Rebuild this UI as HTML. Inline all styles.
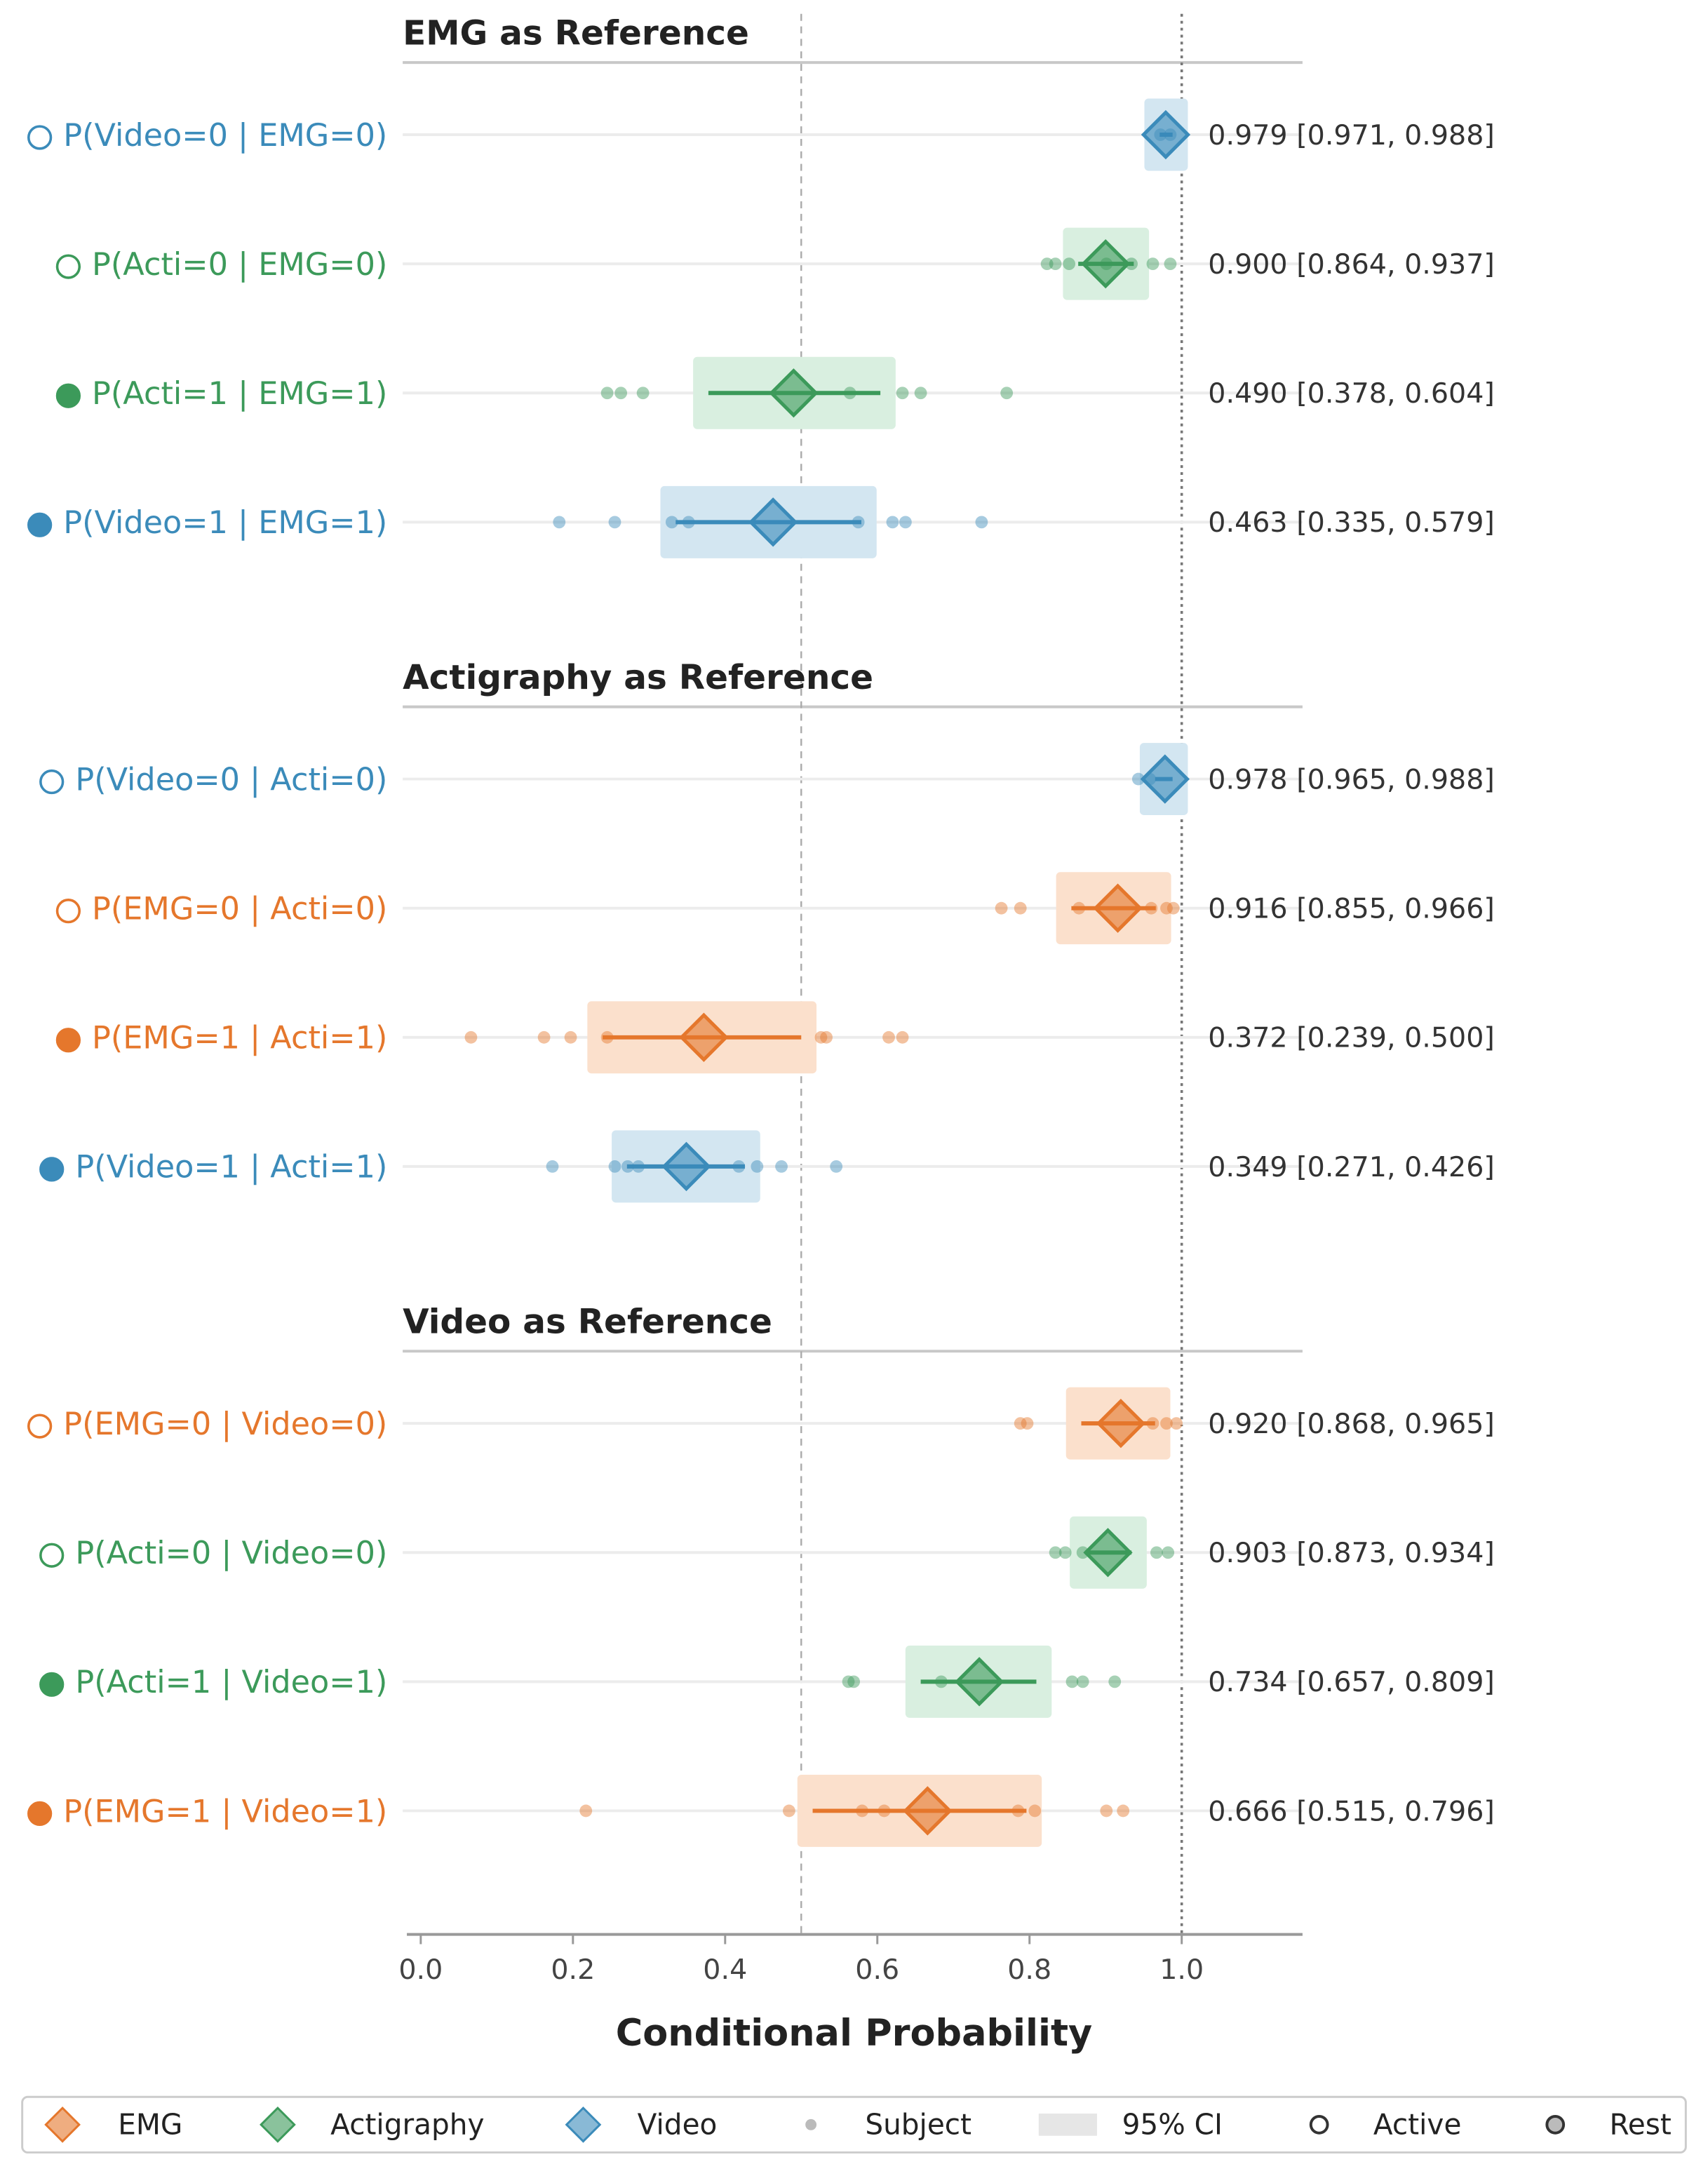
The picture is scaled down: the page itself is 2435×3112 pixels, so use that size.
<!DOCTYPE html>
<html><head><meta charset="utf-8"><style>
html,body{margin:0;padding:0;background:#fff;}
svg{display:block;font-family:"DejaVu Sans","Liberation Sans",sans-serif;}
</style></head><body>
<svg id="chart" width="2435" height="3112" viewBox="0 0 1230 1572" preserveAspectRatio="none" xmlns="http://www.w3.org/2000/svg">
<g id="grid"></g><g id="marks"></g><g id="labels"></g>
</svg>
<script>
const sections = ["EMG as Reference","Actigraphy as Reference","Video as Reference"];
const rowLabels = ["P(Video=0 | EMG=0)","P(Acti=0 | EMG=0)","P(Acti=1 | EMG=1)","P(Video=1 | EMG=1)",
"P(Video=0 | Acti=0)","P(EMG=0 | Acti=0)","P(EMG=1 | Acti=1)","P(Video=1 | Acti=1)",
"P(EMG=0 | Video=0)","P(Acti=0 | Video=0)","P(Acti=1 | Video=1)","P(EMG=1 | Video=1)"];
const rowModality = ["video","acti","acti","video","video","emg","emg","video","emg","acti","acti","emg"];
const rowState = ["active","active","rest","rest","active","active","rest","rest","active","active","rest","rest"];
const means = [0.979,0.900,0.490,0.463,0.978,0.916,0.372,0.349,0.920,0.903,0.734,0.666];
const ciLow = [0.971,0.864,0.378,0.335,0.965,0.855,0.239,0.271,0.868,0.873,0.657,0.515];
const ciHigh = [0.988,0.937,0.604,0.579,0.988,0.966,0.500,0.426,0.965,0.934,0.809,0.796];
const subjects = [
[0.972,0.985],
[0.823,0.834,0.852,0.901,0.934,0.962,0.985],
[0.245,0.263,0.292,0.564,0.633,0.657,0.770],
[0.182,0.255,0.330,0.352,0.575,0.620,0.637,0.737],
[0.943,0.958],
[0.763,0.788,0.865,0.960,0.980,0.989],
[0.066,0.162,0.197,0.245,0.526,0.533,0.615,0.633],
[0.173,0.255,0.272,0.286,0.418,0.442,0.474,0.546],
[0.788,0.797,0.962,0.980,0.993],
[0.834,0.847,0.870,0.967,0.982],
[0.562,0.569,0.684,0.856,0.870,0.912],
[0.217,0.484,0.580,0.609,0.785,0.807,0.901,0.923]];
const xTicks = [0,0.2,0.4,0.6,0.8,1.0];
const xTickLabels = ["0.0","0.2","0.4","0.6","0.8","1.0"];

const colors = {emg:"#e5772c",acti:"#3c9a5a",video:"#3b8bba"};
const fills = {emg:"#fbe0cc",acti:"#d9efe0",video:"#d3e6f1"};
const NS="http://www.w3.org/2000/svg";
const X = v => 303 + v*548;
const rowY = i => { const s=Math.floor(i/4), r=i%4; return 97 + s*464 + r*93; };
function el(parent,tag,attrs,txt){const e=document.createElementNS(NS,tag);for(const k in attrs)e.setAttribute(k,attrs[k]);if(txt!==undefined)e.textContent=txt;parent.appendChild(e);return e;}
const grid=document.getElementById('grid'), marks=document.getElementById('marks'), labels=document.getElementById('labels');

sections.forEach((s,k)=>{
  const y=24+k*464;
  const t=el(labels,'text',{x:290,y:y+8,'font-size':24.5,'font-weight':'bold',fill:'#222'},s);
  
  
  const l=el(grid,'line',{x1:290,x2:938,y1:y+21,y2:y+21,stroke:'#c8c8c8','stroke-width':2});
  
  
});
const r1=el(grid,'line',{x1:X(0.5),x2:X(0.5),y1:10,y2:1392,stroke:'#aaa','stroke-width':1.2,'stroke-dasharray':'5,4'});


const r2=el(grid,'line',{x1:X(1),x2:X(1),y1:10,y2:1392,stroke:'#777','stroke-width':1.8,'stroke-dasharray':'2,3'});



for(let i=0;i<12;i++){
  const y=rowY(i), m=rowModality[i], c=colors[m];
  const g=el(grid,'line',{x1:290,x2:938,y1:y,y2:y,stroke:'#ececec','stroke-width':2});
  
  
  const box=el(marks,'rect',{x:X(ciLow[i])-11,y:y-26,width:X(ciHigh[i])-X(ciLow[i])+22,height:52,rx:3,fill:fills[m]});
  
  
  subjects[i].forEach(v=>{
    const d=el(marks,'circle',{cx:X(v),cy:y,r:4.5,fill:c,'fill-opacity':0.45});
    
    
  });
  const ln=el(marks,'line',{x1:X(ciLow[i]),x2:X(ciHigh[i]),y1:y,y2:y,stroke:c,'stroke-width':3});
  
  
  const cx=X(means[i]);
  const dm=el(marks,'polygon',{points:`${cx-16},${y} ${cx},${y-16} ${cx+16},${y} ${cx},${y+16}`,fill:c,'fill-opacity':0.6,stroke:c,'stroke-width':2.5});
  
  
  const lt=el(labels,'text',{x:279,y:y+8,'font-size':22.5,'text-anchor':'end',fill:c},rowLabels[i]);
  
  
  const w=lt.getComputedTextLength();
  const sc=el(labels,'circle',{cx:279-w-17,cy:y+2,r:8,fill:rowState[i]==='rest'?c:'#fff',stroke:c,'stroke-width':1.8});
  
  
  const vt=el(labels,'text',{x:870,y:y+7,'font-size':20,fill:'#333'},`${means[i].toFixed(3)} [${ciLow[i].toFixed(3)}, ${ciHigh[i].toFixed(3)}]`);
  
  
}
const ax=el(grid,'line',{x1:293,x2:938,y1:1393,y2:1393,stroke:'#999','stroke-width':2});


xTicks.forEach((v,k)=>{
  const tk=el(grid,'line',{x1:X(v),x2:X(v),y1:1393,y2:1400,stroke:'#999','stroke-width':1.5});
  
  
  const tl=el(labels,'text',{x:X(v),y:1425,'font-size':20,'text-anchor':'middle',fill:'#444'},xTickLabels[k]);
  
  
});
const xt=el(labels,'text',{x:615,y:1473,'font-size':26.5,'font-weight':'bold','text-anchor':'middle',fill:'#222'},'Conditional Probability');


const lg=el(grid,'rect',{x:16,y:1510,width:1198,height:40,rx:4,fill:'#fff',stroke:'#ccc','stroke-width':1.5});


const ly=1530;
function legDiamond(x,c){const p=el(labels,'polygon',{points:`${x-12},${ly} ${x},${ly-12} ${x+12},${ly} ${x},${ly+12}`,fill:c,'fill-opacity':0.6,stroke:c,'stroke-width':1.5});}
function legText(x,t){const e=el(labels,'text',{x:x,y:ly+7,'font-size':20.5,fill:'#222'},t);}
legDiamond(45,colors.emg);legText(85,'EMG');
legDiamond(200,colors.acti);legText(238,'Actigraphy');
legDiamond(420,colors.video);legText(459,'Video');
const sd=el(labels,'circle',{cx:584,cy:ly,r:4,fill:'#bbb'});
legText(623,'Subject');
const cb=el(labels,'rect',{x:748,y:ly-8,width:42,height:16,fill:'#e6e6e6'});
legText(808,'95% CI');
const ac=el(labels,'circle',{cx:950,cy:ly,r:6,fill:'#fff',stroke:'#333','stroke-width':2});
legText(989,'Active');
const rc=el(labels,'circle',{cx:1120,cy:ly,r:6,fill:'#bbb',stroke:'#333','stroke-width':2});
legText(1159,'Rest');
</script>
</body></html>
